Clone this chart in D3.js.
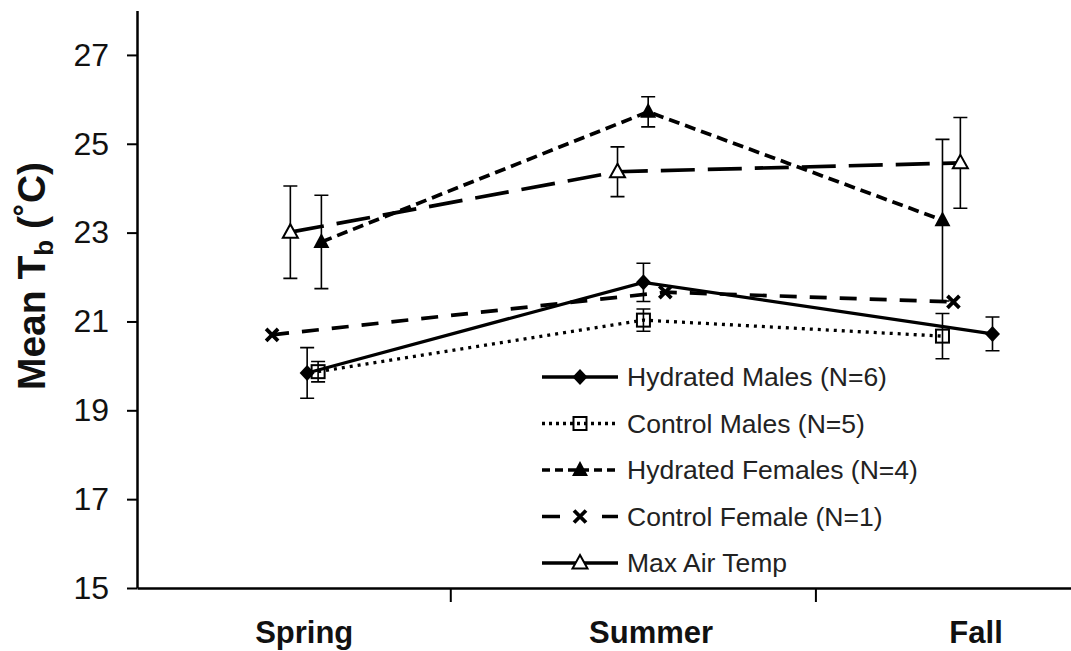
<!DOCTYPE html>
<html>
<head>
<meta charset="utf-8">
<script src="https://cdn.jsdelivr.net/npm/d3@7"></script>
<style>
  html, body { margin: 0; padding: 0; background: #fff; }
  svg { display: block; font-family: "Liberation Sans", Arial, sans-serif; }
</style>
</head>
<body>
<svg id="chart" width="1071" height="651"></svg>
<script>
// Seasons and axis labels
const seasons = ["Spring", "Summer", "Fall"];
const seasonLabelX = [1.1, 2.05, 2.94];
const seasonDividers = [1.5, 2.5];
const yTicks = [15, 17, 19, 21, 23, 25, 27];

// Hydrated males: position, mean Tb, SE
const hydratedMalesX = [1.108, 2.029, 2.985];
const hydratedMalesMean = [19.84, 21.88, 20.72];
const hydratedMalesErr = [0.57, 0.43, 0.38];

// Control males
const controlMalesX = [1.138, 2.029, 2.848];
const controlMalesMean = [19.87, 21.03, 20.67];
const controlMalesErr = [0.23, 0.25, 0.51];

// Hydrated females
const hydratedFemalesX = [1.147, 2.042, 2.848];
const hydratedFemalesMean = [22.79, 25.72, 23.28];
const hydratedFemalesErr = [1.05, 0.34, 1.82];

// Control female (single animal, no error)
const controlFemaleX = [1.012, 2.089, 2.878];
const controlFemaleMean = [20.70, 21.66, 21.44];

// Maximum air temperature
const maxAirX = [1.062, 1.958, 2.897];
const maxAirMean = [23.01, 24.37, 24.57];
const maxAirErr = [1.04, 0.56, 1.02];

const build = (xs, ys, es) => xs.map((x, i) => ({ x, y: ys[i], e: es ? es[i] : null }));

const series = [
  { name: "Hydrated Males (N=6)", pts: build(hydratedMalesX, hydratedMalesMean, hydratedMalesErr),
    dash: null, legendDash: null, width: 3.3, marker: "diamond" },
  { name: "Control Males (N=5)", pts: build(controlMalesX, controlMalesMean, controlMalesErr),
    dash: "3,5", legendDash: "3,4", width: 3.3, marker: "square" },
  { name: "Hydrated Females (N=4)", pts: build(hydratedFemalesX, hydratedFemalesMean, hydratedFemalesErr),
    dash: "11,6", legendDash: "8,5", width: 3.7, marker: "triFilled" },
  { name: "Control Female (N=1)", pts: build(controlFemaleX, controlFemaleMean, null),
    dash: "17,13", legendDash: "18,42", width: 3.7, marker: "cross" },
  { name: "Max Air Temp", pts: build(maxAirX, maxAirMean, maxAirErr),
    dash: "34,13", legendDash: null, width: 3.7, marker: "triOpen" }
];

const svg = d3.select("#chart");
svg.append("rect").attr("width", 1071).attr("height", 651).attr("fill", "#fff");

const x = d3.scaleLinear().domain([0.642, 3.2]).range([137, 1071]);
const y = d3.scaleLinear().domain([15, 28]).range([588, 10.5]);

// Y axis
const yAxis = svg.append("g")
  .attr("transform", "translate(137,0)")
  .call(d3.axisLeft(y).tickValues(yTicks).tickSize(10).tickSizeOuter(0).tickPadding(18));
yAxis.select(".domain").attr("stroke", "#000").attr("stroke-width", 2.5);
yAxis.selectAll(".tick line").attr("stroke", "#000").attr("stroke-width", 2);
yAxis.selectAll(".tick text").attr("font-size", 32).attr("fill", "#111")
  .attr("font-family", "'Liberation Sans', Arial, sans-serif");

// X axis
const xAxis = svg.append("g")
  .attr("transform", "translate(0,588)")
  .call(d3.axisBottom(x).tickValues(seasonDividers).tickSize(14).tickSizeOuter(0).tickFormat(""));
xAxis.select(".domain").attr("stroke", "#000").attr("stroke-width", 2.5);
xAxis.selectAll(".tick line").attr("stroke", "#000").attr("stroke-width", 2);

svg.append("g").selectAll("text").data(seasons).join("text")
  .attr("x", (d, i) => x(seasonLabelX[i]))
  .attr("y", 643)
  .attr("text-anchor", "middle")
  .attr("font-size", 31)
  .attr("font-weight", "bold")
  .attr("fill", "#111")
  .text(d => d);

// Y title
const yTitle = svg.append("text")
  .attr("transform", "translate(45,276) rotate(-90)")
  .attr("text-anchor", "middle")
  .attr("font-size", 39)
  .attr("font-weight", "bold")
  .attr("fill", "#111");
yTitle.append("tspan").text("Mean T");
yTitle.append("tspan").attr("font-size", 26).attr("dy", 8).text("b");
yTitle.append("tspan").attr("dy", -8).text(" (˚C)");

// Markers
function drawMarker(g, type, cx, cy) {
  if (type === "diamond") {
    g.append("path").attr("d", `M${cx},${cy - 8}L${cx + 7.5},${cy}L${cx},${cy + 8}L${cx - 7.5},${cy}Z`)
      .attr("fill", "#000");
  } else if (type === "square") {
    g.append("rect").attr("x", cx - 6.5).attr("y", cy - 6.5).attr("width", 13).attr("height", 13)
      .attr("fill", "none").attr("stroke", "#000").attr("stroke-width", 2);
  } else if (type === "triFilled") {
    g.append("path").attr("d", `M${cx},${cy - 9}L${cx + 8},${cy + 6}L${cx - 8},${cy + 6}Z`)
      .attr("fill", "#000");
  } else if (type === "triOpen") {
    g.append("path").attr("d", `M${cx},${cy - 8}L${cx + 7.5},${cy + 5.5}L${cx - 7.5},${cy + 5.5}Z`)
      .attr("fill", "#fff").attr("stroke", "#000").attr("stroke-width", 2);
  } else if (type === "cross") {
    g.append("path").attr("d", `M${cx - 6},${cy - 6}L${cx + 6},${cy + 6}M${cx - 6},${cy + 6}L${cx + 6},${cy - 6}`)
      .attr("stroke", "#000").attr("stroke-width", 3.8).attr("fill", "none");
  }
}

const line = d3.line().x(d => x(d.x)).y(d => y(d.y));
const plot = svg.append("g");

series.forEach(s => {
  const g = plot.append("g");
  g.append("path").datum(s.pts).attr("d", line)
    .attr("fill", "none").attr("stroke", "#000")
    .attr("stroke-width", s.width)
    .attr("stroke-dasharray", s.dash);
  // error bars
  s.pts.filter(p => p.e != null).forEach(p => {
    const cx = x(p.x), y0 = y(p.y - p.e), y1 = y(p.y + p.e);
    g.append("path")
      .attr("d", `M${cx},${y0}V${y1}M${cx - 7},${y0}H${cx + 7}M${cx - 7},${y1}H${cx + 7}`)
      .attr("stroke", "#000").attr("stroke-width", 1.6).attr("fill", "none");
  });
  s.pts.forEach(p => drawMarker(g, s.marker, x(p.x), y(p.y)));
});

// Legend
const legend = svg.append("g");
series.forEach((s, i) => {
  const ly = 377 + i * 46.5;
  const g = legend.append("g");
  g.append("line").attr("x1", 542).attr("x2", 618).attr("y1", ly).attr("y2", ly)
    .attr("stroke", "#000").attr("stroke-width", s.width)
    .attr("stroke-dasharray", s.legendDash);
  drawMarker(g, s.marker, 580, ly);
  g.append("text").attr("x", 627).attr("y", ly + 9)
    .attr("font-size", 26.5).attr("fill", "#222").text(s.name);
});
</script>
</body>
</html>
